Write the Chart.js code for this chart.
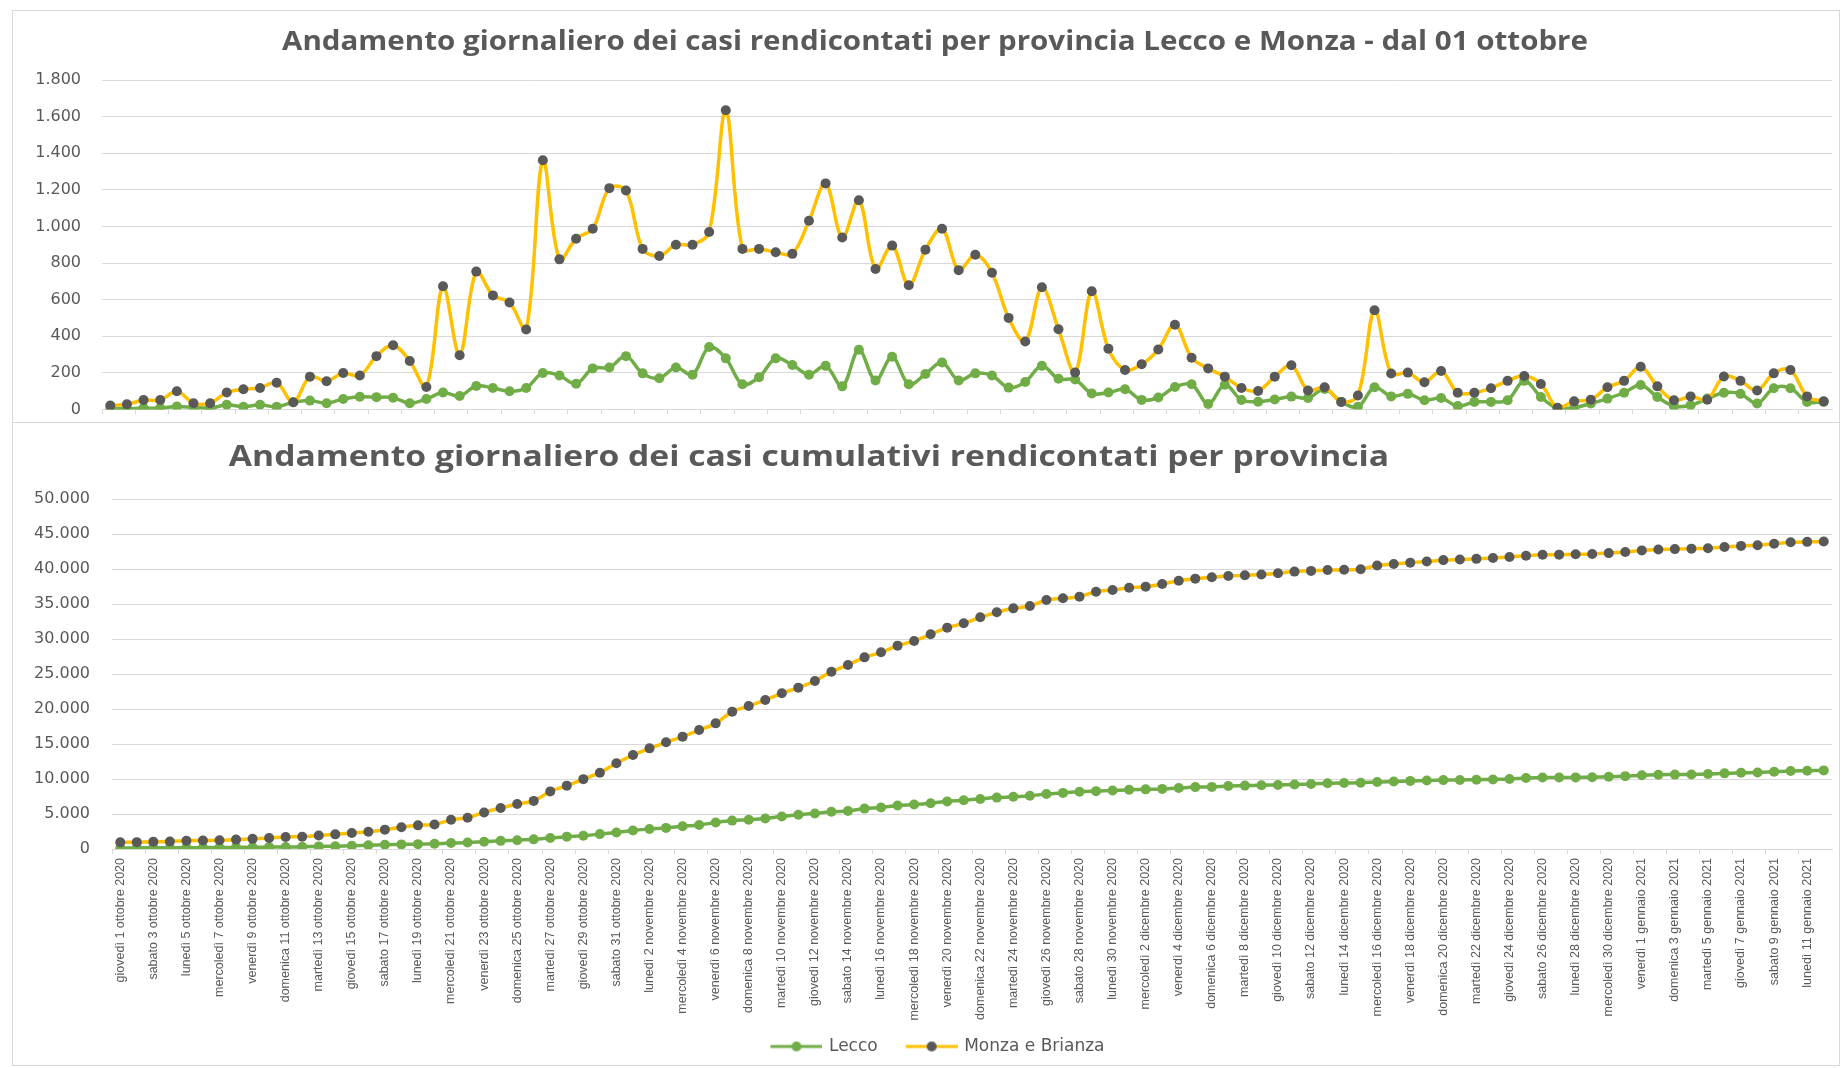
<!DOCTYPE html>
<html lang="it">
<head>
<meta charset="utf-8">
<title>Andamento casi Lecco e Monza</title>
<script src="https://cdn.jsdelivr.net/npm/chart.js@4.4.1/dist/chart.umd.min.js"></script>
<style>
    html, body { margin: 0; padding: 0; background: #fff; }
    #page { position: relative; width: 1845px; height: 1068px; overflow: hidden; }
    .frame { position: absolute; border: 1px solid #d9d9d9; box-sizing: border-box; }
    .title {
        position: absolute; z-index: 2; white-space: nowrap; line-height: 1;
        font-family: "Open Sans", sans-serif; font-weight: 700; color: #595959;
    }
    canvas { position: absolute; left: 0; }
</style>
</head>
<body>
<div id="page">
    <div class="frame" style="left:12px; top:10px; width:1828px; height:1056px;"></div>
    <div class="frame" style="left:12px; top:10px; width:1828px; height:413px;"></div>
    <div class="title" style="left:935px; top:27px; font-size:26px; transform:translateX(-50%) scaleX(1.136);">Andamento giornaliero dei casi rendicontati per provincia Lecco e Monza - dal 01 ottobre</div>
    <div class="title" style="left:809px; top:440px; font-size:29px; transform:translateX(-50%) scaleX(1.16);">Andamento giornaliero dei casi cumulativi rendicontati per provincia</div>
    <canvas id="daily" width="1845" height="440" style="top:0;"></canvas>
    <canvas id="cumul" width="1845" height="638" style="top:430px;"></canvas>
</div>

<script>
// --- DATA ---
const days = [
    'giovedì 1 ottobre 2020', 'venerdì 2 ottobre 2020', 'sabato 3 ottobre 2020', 'domenica 4 ottobre 2020',
    'lunedì 5 ottobre 2020', 'martedì 6 ottobre 2020', 'mercoledì 7 ottobre 2020', 'giovedì 8 ottobre 2020',
    'venerdì 9 ottobre 2020', 'sabato 10 ottobre 2020', 'domenica 11 ottobre 2020', 'lunedì 12 ottobre 2020',
    'martedì 13 ottobre 2020', 'mercoledì 14 ottobre 2020', 'giovedì 15 ottobre 2020', 'venerdì 16 ottobre 2020',
    'sabato 17 ottobre 2020', 'domenica 18 ottobre 2020', 'lunedì 19 ottobre 2020', 'martedì 20 ottobre 2020',
    'mercoledì 21 ottobre 2020', 'giovedì 22 ottobre 2020', 'venerdì 23 ottobre 2020', 'sabato 24 ottobre 2020',
    'domenica 25 ottobre 2020', 'lunedì 26 ottobre 2020', 'martedì 27 ottobre 2020', 'mercoledì 28 ottobre 2020',
    'giovedì 29 ottobre 2020', 'venerdì 30 ottobre 2020', 'sabato 31 ottobre 2020',
    'domenica 1 novembre 2020', 'lunedì 2 novembre 2020', 'martedì 3 novembre 2020', 'mercoledì 4 novembre 2020',
    'giovedì 5 novembre 2020', 'venerdì 6 novembre 2020', 'sabato 7 novembre 2020', 'domenica 8 novembre 2020',
    'lunedì 9 novembre 2020', 'martedì 10 novembre 2020', 'mercoledì 11 novembre 2020', 'giovedì 12 novembre 2020',
    'venerdì 13 novembre 2020', 'sabato 14 novembre 2020', 'domenica 15 novembre 2020', 'lunedì 16 novembre 2020',
    'martedì 17 novembre 2020', 'mercoledì 18 novembre 2020', 'giovedì 19 novembre 2020', 'venerdì 20 novembre 2020',
    'sabato 21 novembre 2020', 'domenica 22 novembre 2020', 'lunedì 23 novembre 2020', 'martedì 24 novembre 2020',
    'mercoledì 25 novembre 2020', 'giovedì 26 novembre 2020', 'venerdì 27 novembre 2020', 'sabato 28 novembre 2020',
    'domenica 29 novembre 2020', 'lunedì 30 novembre 2020',
    'martedì 1 dicembre 2020', 'mercoledì 2 dicembre 2020', 'giovedì 3 dicembre 2020', 'venerdì 4 dicembre 2020',
    'sabato 5 dicembre 2020', 'domenica 6 dicembre 2020', 'lunedì 7 dicembre 2020', 'martedì 8 dicembre 2020',
    'mercoledì 9 dicembre 2020', 'giovedì 10 dicembre 2020', 'venerdì 11 dicembre 2020', 'sabato 12 dicembre 2020',
    'domenica 13 dicembre 2020', 'lunedì 14 dicembre 2020', 'martedì 15 dicembre 2020', 'mercoledì 16 dicembre 2020',
    'giovedì 17 dicembre 2020', 'venerdì 18 dicembre 2020', 'sabato 19 dicembre 2020', 'domenica 20 dicembre 2020',
    'lunedì 21 dicembre 2020', 'martedì 22 dicembre 2020', 'mercoledì 23 dicembre 2020', 'giovedì 24 dicembre 2020',
    'venerdì 25 dicembre 2020', 'sabato 26 dicembre 2020', 'domenica 27 dicembre 2020', 'lunedì 28 dicembre 2020',
    'martedì 29 dicembre 2020', 'mercoledì 30 dicembre 2020', 'giovedì 31 dicembre 2020',
    'venerdì 1 gennaio 2021', 'sabato 2 gennaio 2021', 'domenica 3 gennaio 2021', 'lunedì 4 gennaio 2021',
    'martedì 5 gennaio 2021', 'mercoledì 6 gennaio 2021', 'giovedì 7 gennaio 2021', 'venerdì 8 gennaio 2021',
    'sabato 9 gennaio 2021', 'domenica 10 gennaio 2021', 'lunedì 11 gennaio 2021', 'martedì 12 gennaio 2021'
];

// daily cases
const leccoDaily = [
    4, 4, 7, 7, 16, 11, 7, 25, 14, 25,
    14, 39, 48, 34, 57, 69, 67, 64, 34, 57,
    92, 73, 128, 117, 99, 117, 199, 185, 140, 224,
    229, 291, 197, 170, 229, 190, 341, 279, 137, 176,
    279, 243, 190, 238, 126, 326, 158, 288, 137, 193,
    256, 158, 197, 185, 119, 150, 238, 167, 163, 87,
    92, 110, 52, 65, 122, 137, 30, 135, 51, 42,
    54, 70, 62, 112, 41, 14, 121, 71, 85, 50,
    62, 18, 41, 41, 50, 156, 68, 5, 9, 32,
    59, 91, 133, 68, 18, 23, 59, 91, 85, 32,
    116, 116, 41, 41
];
const monzaDaily = [
    21, 28, 51, 51, 99, 34, 34, 92, 110, 117,
    146, 39, 179, 154, 199, 185, 291, 351, 264, 122,
    673, 296, 753, 623, 584, 437, 1361, 820, 933, 987,
    1209, 1196, 877, 838, 900, 900, 969, 1635, 877, 877,
    859, 850, 1031, 1235, 939, 1143, 767, 895, 678, 873,
    987, 761, 845, 747, 500, 371, 667, 438, 202, 646,
    332, 215, 247, 327, 463, 282, 224, 179, 117, 101,
    179, 241, 103, 121, 41, 76, 542, 196, 201, 148,
    210, 91, 91, 116, 156, 183, 139, 9, 44, 53,
    121, 156, 233, 126, 50, 71, 53, 180, 156, 103,
    197, 215, 71, 44
];

// cumulative cases
const leccoCumul = [
    150, 160, 165, 170, 190, 200, 205, 230, 245, 270,
    285, 325, 370, 405, 460, 530, 600, 660, 695, 755,
    845, 920, 1045, 1165, 1260, 1380, 1580, 1765, 1905, 2130,
    2360, 2650, 2845, 3015, 3245, 3435, 3775, 4055, 4190, 4365,
    4645, 4890, 5080, 5315, 5440, 5770, 5925, 6215, 6350, 6545,
    6800, 6960, 7155, 7340, 7460, 7610, 7845, 8015, 8175, 8265,
    8355, 8465, 8520, 8585, 8705, 8840, 8870, 9005, 9055, 9100,
    9155, 9225, 9290, 9400, 9440, 9455, 9575, 9645, 9730, 9780,
    9840, 9860, 9900, 9940, 9990, 10145, 10215, 10220, 10230, 10260,
    10320, 10410, 10545, 10615, 10630, 10655, 10715, 10805, 10890, 10920,
    11035, 11150, 11190, 11230
];
const monzaCumul = [
    950, 980, 1030, 1080, 1180, 1215, 1250, 1340, 1450, 1570,
    1715, 1755, 1935, 2090, 2290, 2475, 2765, 3115, 3380, 3500,
    4175, 4470, 5225, 5850, 6430, 6870, 8230, 9050, 9980, 10900,
    12240, 13430, 14380, 15240, 16050, 17000, 17950, 19620, 20430, 21290,
    22240, 23050, 24000, 25330, 26290, 27380, 28100, 29050, 29710, 30670,
    31620, 32240, 33100, 33810, 34380, 34710, 35570, 35810, 36050, 36760,
    37000, 37330, 37480, 37860, 38330, 38620, 38810, 38990, 39110, 39210,
    39390, 39630, 39730, 39850, 39890, 39970, 40510, 40710, 40910, 41060,
    41270, 41360, 41450, 41570, 41720, 41900, 42040, 42050, 42100, 42150,
    42270, 42430, 42660, 42790, 42840, 42910, 42960, 43140, 43300, 43400,
    43600, 43810, 43880, 43930
];

const seriesNames = ['Lecco', 'Monza e Brianza'];
const dailyTicks = { max: 1800, step: 200 };
const cumulTicks = { max: 50000, step: 5000 };

// --- STYLE ---
const GREEN = '#70ad47';
const GOLD = '#ffc000';
const DARK = '#595959';
const GRID = '#d9d9d9';

// 1.800 / 50.000 style
function fmt(v) {
    return String(v).replace(/\B(?=(\d{3})+(?!\d))/g, '.');
}

function makeSeries(lecco, monza) {
    return [
        {
            label: seriesNames[0], data: lecco, order: 1,
            borderColor: GREEN, backgroundColor: GREEN,
            pointBackgroundColor: GREEN, pointBorderColor: GREEN,
            borderWidth: 3.5, pointRadius: 5, pointBorderWidth: 0, tension: 0.35
        },
        {
            label: seriesNames[1], data: monza, order: 0,
            borderColor: GOLD, backgroundColor: GOLD,
            pointBackgroundColor: DARK, pointBorderColor: DARK,
            borderWidth: 3.5, pointRadius: 5, pointBorderWidth: 0, tension: 0.35
        }
    ];
}

// tick marks between categories, one every two days (like the excel axis)
const tickMarkColor = ctx => (ctx.index % 2 === 0 ? GRID : 'rgba(0,0,0,0)');

// legend icon: short line with the marker in the middle.
// the image is a bit wider on the left so the line sits close to its text
function legendIcon(lineColor, dotColor) {
    const c = document.createElement('canvas');
    c.width = 71; c.height = 12;
    const g = c.getContext('2d');
    g.strokeStyle = lineColor; g.lineWidth = 3;
    g.beginPath(); g.moveTo(19, 6); g.lineTo(71, 6); g.stroke();
    g.fillStyle = dotColor;
    g.beginPath(); g.arc(45, 6, 5, 0, Math.PI * 2); g.fill();
    return c;
}
const icons = [legendIcon(GREEN, GREEN), legendIcon(GOLD, DARK)];

// --- 2. DAILY CHART ---
new Chart(document.getElementById('daily'), {
    type: 'line',
    data: { labels: days, datasets: makeSeries(leccoDaily, monzaDaily) },
    options: {
        responsive: false,
        animation: false,
        layout: { padding: { top: 80, right: 13, bottom: 12, left: 0 } },
        plugins: { legend: { display: false }, tooltip: { enabled: false } },
        scales: {
            x: {
                offset: true,
                grid: { offset: true, drawOnChartArea: false, tickLength: 5, color: tickMarkColor },
                border: { color: GRID },
                ticks: { display: false },
                afterFit: s => { s.height = 10; }
            },
            y: {
                min: 0, max: dailyTicks.max,
                ticks: {
                    stepSize: dailyTicks.step, padding: 21, color: DARK,
                    font: { family: 'DejaVu Sans', size: 16 },
                    callback: v => fmt(v)
                },
                grid: { color: GRID, drawTicks: false },
                border: { display: false },
                afterFit: s => { s.width = 102; }
            }
        }
    }
});

// --- 3. CUMULATIVE CHART ---
new Chart(document.getElementById('cumul'), {
    type: 'line',
    data: { labels: days, datasets: makeSeries(leccoCumul, monzaCumul) },
    options: {
        responsive: false,
        animation: false,
        layout: { padding: { top: 69, right: 13, bottom: 3, left: 26 } },
        plugins: {
            tooltip: { enabled: false },
            legend: {
                position: 'bottom',
                labels: {
                    usePointStyle: true, pointStyleWidth: 67, boxHeight: 12, padding: 11,
                    color: DARK, font: { family: 'DejaVu Sans', size: 17 },
                    generateLabels: chart => chart.data.datasets.map((ds, i) => ({
                        text: ds.label, pointStyle: icons[i], datasetIndex: i,
                        fillStyle: 'rgba(0,0,0,0)', strokeStyle: 'rgba(0,0,0,0)',
                        lineWidth: 0, hidden: false, fontColor: DARK
                    }))
                }
            }
        },
        scales: {
            x: {
                offset: true,
                grid: { offset: true, drawOnChartArea: false, tickLength: 5, color: tickMarkColor },
                border: { color: GRID },
                ticks: {
                    autoSkip: false, minRotation: 90, maxRotation: 90, padding: 4,
                    color: DARK, font: { family: 'Liberation Sans', size: 12.5 },
                    callback: (v, i) => (i % 2 === 0 ? days[i] : '')
                },
                afterFit: s => { s.height = 178; }
            },
            y: {
                min: 0, max: cumulTicks.max,
                ticks: {
                    stepSize: cumulTicks.step, padding: 22, color: DARK,
                    font: { family: 'DejaVu Sans', size: 16 },
                    callback: v => fmt(v)
                },
                grid: { color: GRID, drawTicks: false },
                border: { display: false },
                afterFit: s => { s.width = 86; }
            }
        }
    }
});
</script>
</body>
</html>
